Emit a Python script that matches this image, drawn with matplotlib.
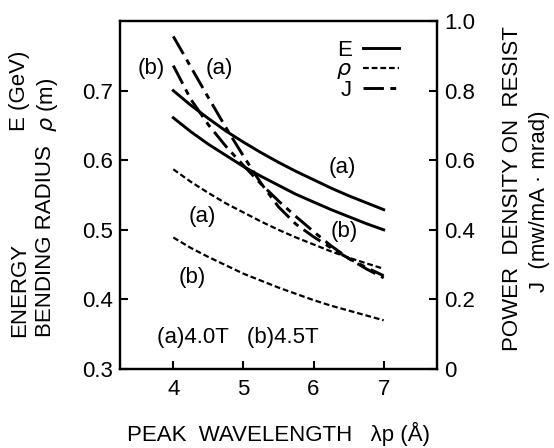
import matplotlib
matplotlib.use("Agg")
import matplotlib.pyplot as plt
from matplotlib.lines import Line2D

plt.rcParams['font.family'] = ['Liberation Sans', 'DejaVu Sans']
plt.rcParams['mathtext.fontset'] = 'dejavusans'

# wavelength (Angstrom)
wavelength = [4.0, 4.25, 4.5, 4.75, 5.0, 5.25, 5.5, 5.75, 6.0, 6.25, 6.5, 6.75, 7.0]
# Energy (GeV), left axis
E_a = [0.700, 0.679, 0.660, 0.642, 0.626, 0.611, 0.597, 0.584, 0.572, 0.560, 0.549, 0.539, 0.529]
E_b = [0.661, 0.641, 0.623, 0.607, 0.591, 0.577, 0.564, 0.551, 0.540, 0.529, 0.519, 0.509, 0.500]
# Bending radius (m), left axis
rho_a = [0.587, 0.569, 0.553, 0.538, 0.525, 0.512, 0.500, 0.489, 0.479, 0.469, 0.460, 0.452, 0.444]
rho_b = [0.489, 0.474, 0.461, 0.449, 0.437, 0.427, 0.417, 0.408, 0.399, 0.391, 0.384, 0.377, 0.370]
# Power density J (mW/mA mrad), right axis
J_a = [0.956, 0.868, 0.780, 0.694, 0.612, 0.534, 0.466, 0.416, 0.380, 0.348, 0.318, 0.292, 0.268]
J_b = [0.872, 0.775, 0.702, 0.640, 0.585, 0.532, 0.483, 0.438, 0.395, 0.354, 0.318, 0.288, 0.262]

x_ticks = [4, 5, 6, 7]
left_ticks = [0.3, 0.4, 0.5, 0.6, 0.7]
left_ticklabels = ['0.3', '0.4', '0.5', '0.6', '0.7']
right_ticks = [0, 0.2, 0.4, 0.6, 0.8, 1.0]
right_ticklabels = ['0', '0.2', '0.4', '0.6', '0.8', '1.0']

fig = plt.figure(figsize=(5.54, 4.48), dpi=100)
ax = fig.add_axes([0.2166, 0.1763, 0.5722, 0.7767])
ax2 = ax.twinx()

fs = 16
lw_solid = 2.1
lw_dash = 1.6
J_dashes = (7, 2.2, 2.0, 2.2)
rho_dashes = (2.6, 1.3)

ax.plot(wavelength, E_a, color='black', lw=lw_solid)
ax.plot(wavelength, E_b, color='black', lw=lw_solid)
ax.plot(wavelength, rho_a, color='black', lw=lw_dash, dashes=rho_dashes)
ax.plot(wavelength, rho_b, color='black', lw=lw_dash, dashes=rho_dashes)
ax2.plot(wavelength, J_a, color='black', lw=lw_solid, dashes=J_dashes)
ax2.plot(wavelength, J_b, color='black', lw=lw_solid, dashes=J_dashes)

ax.set_xlim(3.24, 7.76)
ax.set_ylim(0.3, 0.8)
ax2.set_ylim(0, 1.0)

ax.set_xticks(x_ticks)
ax.set_xticklabels([str(t) for t in x_ticks])
ax.set_yticks(left_ticks)
ax.set_yticklabels(left_ticklabels)
ax2.set_yticks(right_ticks)
ax2.set_yticklabels(right_ticklabels)

for a in (ax, ax2):
    for s in a.spines.values():
        s.set_linewidth(1.6)
ax.tick_params(axis='both', direction='in', length=6, width=1.5,
               labelsize=fs, pad=5)
ax.tick_params(axis='x', pad=7)
ax2.tick_params(axis='y', direction='in', length=6, width=1.5,
                labelsize=fs, pad=5)

ax.set_xlabel('PEAK  WAVELENGTH   λp (Å)', fontsize=fs, labelpad=16)

# curve annotations
ann = dict(fontsize=fs, ha='center', va='center')
ax.text(3.69, 0.732, '(b)', **ann)
ax.text(4.66, 0.732, '(a)', **ann)
ax.text(6.41, 0.589, '(a)', **ann)
ax.text(6.44, 0.497, '(b)', **ann)
ax.text(4.41, 0.519, '(a)', **ann)
ax.text(4.27, 0.432, '(b)', **ann)
ax.text(3.77, 0.346, '(a)4.0T   (b)4.5T', fontsize=fs, ha='left', va='center')

# legend
handles = [Line2D([], [], color='black', lw=lw_solid),
           Line2D([], [], color='black', lw=lw_dash, dashes=rho_dashes),
           Line2D([], [], color='black', lw=lw_solid, dashes=J_dashes)]
ax.legend(handles, ['E', r'$\rho$', 'J'], loc='upper right',
          bbox_to_anchor=(0.915, 0.978), frameon=False, markerfirst=False,
          fontsize=fs, handlelength=1.6, handletextpad=0.5,
          labelspacing=-0.06, borderpad=0.0)

# axis labels (figure coordinates)
rot = dict(rotation=90, fontsize=fs, ha='center', va='bottom')
fig.text(20 / 554, 1 - 337 / 448, 'ENERGY', **rot)
fig.text(46 / 554, 1 - 337 / 448, 'BENDING RADIUS', **rot)
fig.text(20 / 554, 1 - 131 / 448, 'E (GeV)', **rot)
fig.text(47 / 554, 1 - 132 / 448, r'$\rho$ (m)', **rot)
fig.text(513 / 554, 1 - 351 / 448, 'POWER  DENSITY ON  RESIST', **rot)
fig.text(540 / 554, 1 - 292 / 448, 'J  (mw/mA · mrad)', **rot)

fig.savefig('out.png', dpi=100)
